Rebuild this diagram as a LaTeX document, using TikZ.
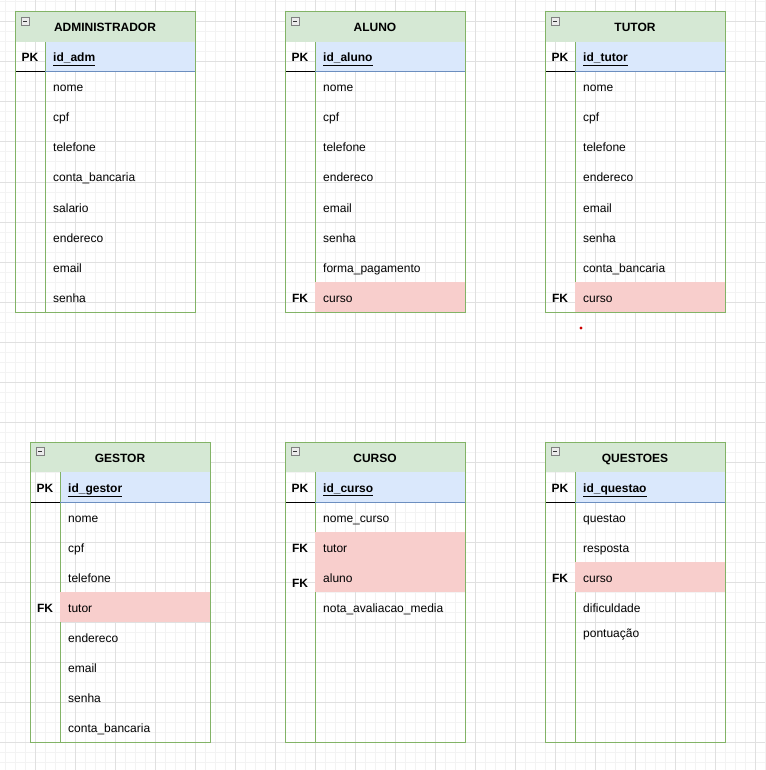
\documentclass[tikz,border=0pt]{standalone}
\usepackage{fontspec}
\setmainfont{Liberation Sans}

\definecolor{erHeadFill}{HTML}{D5E8D4}
\definecolor{erHeadLine}{HTML}{82B366}
\definecolor{erPkFill}{HTML}{DAE8FC}
\definecolor{erPkLine}{HTML}{6C8EBF}
\definecolor{erFkFill}{HTML}{F8CECC}
\definecolor{erGridMinor}{HTML}{F3F3F3}
\definecolor{erGridMajor}{HTML}{E0E0E0}
\definecolor{erDot}{HTML}{CC0000}

\def\erTableWidth{180}
\def\erKeyWidth{30}
\def\erRowHeight{30}
\def\erTextGap{8}
\def\erBase{5}

\tikzset{
  erframe/.style = {draw = erHeadLine, line width = 1pt},
  ersep/.style = {draw = erHeadLine, line width = 1pt},
  erpkline/.style = {draw = black, line width = 1pt},
  ericon/.style = {draw = gray, fill = black!8, line width = 0.8pt},
  erminus/.style = {draw = black!80, line width = 1pt},
  ertext/.style = {inner sep = 0pt, font = \fontsize{12}{14.4}\selectfont},
  ertitle/.style = {ertext, anchor = base, font = \fontsize{12}{14.4}\selectfont\bfseries},
  erkey/.style = {ertext, anchor = base, font = \fontsize{12}{14.4}\selectfont\bfseries},
  erfield/.style = {ertext, anchor = base west},
}

%% #1 name, #2 x, #3 y, #4 title, #5 primary key, #6 number of rows
\newcommand{\erTable}[6]{%
  \coordinate (#1) at (#2,#3);
  \fill [erHeadFill] (#1) rectangle ++(\erTableWidth,\erRowHeight);
  \fill [erPkFill] (#1) ++(\erKeyWidth,\erRowHeight)
    rectangle ++({\erTableWidth-\erKeyWidth},\erRowHeight);
  \draw [ersep] (#1) ++(\erKeyWidth,\erRowHeight)
    -- ++(0,{(#6+1)*\erRowHeight});
  \draw [erpkline] (#1) ++(0,{2*\erRowHeight}) -- ++(\erKeyWidth,0);
  \draw [erpkline, draw = erPkLine] (#1) ++(\erKeyWidth,{2*\erRowHeight})
    -- ++({\erTableWidth-\erKeyWidth},0);
  \draw [erframe] (#1) rectangle ++(\erTableWidth,{(#6+2)*\erRowHeight});
  \draw [ericon] (#1) ++(6,5.5) rectangle ++(8,8);
  \draw [erminus] (#1) ++(8,9.5) -- ++(4,0);
  \node [ertitle] (#1-title) at ([shift={({\erTableWidth/2},{15+\erBase})}]#1) {#4};
  \node [erkey] (#1-pkkey) at ([shift={({\erKeyWidth/2},{45+\erBase})}]#1) {PK};
  \node [erfield, font = \fontsize{12}{14.4}\selectfont\bfseries] (#1-pk)
    at ([shift={({\erKeyWidth+\erTextGap},{45+\erBase})}]#1) {\underline{#5}};
}

%% #1 vertical nudge, #2 table, #3 row, #4 text
\newcommand{\erField}[4][0]{%
  \node [erfield] (#2-row#3)
    at ([shift={({\erKeyWidth+\erTextGap},{45+30*#3+\erBase+#1})}]#2) {#4};
}

%% #1 key nudge, #2 table, #3 row, #4 text
\newcommand{\erFk}[4][0]{%
  \fill [erFkFill] ([shift={(\erKeyWidth,{30+30*#3})}]#2)
    rectangle ++({\erTableWidth-\erKeyWidth},\erRowHeight);
  \node [erkey] (#2-fk#3)
    at ([shift={({\erKeyWidth/2},{45+30*#3+\erBase+#1})}]#2) {FK};
  \node [erfield] (#2-row#3)
    at ([shift={({\erKeyWidth+\erTextGap},{45+30*#3+\erBase})}]#2) {#4};
}

\begin{document}
\begin{tikzpicture}[x = 1pt, y = -1pt]
  \useasboundingbox (0,0) rectangle (765,770);
  %% background grid
  \foreach \gx in {5,15,...,765}
    \draw [erGridMinor, line width = 1pt] (\gx,0) -- (\gx,770);
  \foreach \gy in {2,12,...,770}
    \draw [erGridMinor, line width = 1pt] (0,\gy) -- (765,\gy);
  \foreach \gx in {35,75,...,765}
    \draw [erGridMajor, line width = 1pt] (\gx,0) -- (\gx,770);
  \foreach \gy in {22,62,...,770}
    \draw [erGridMajor, line width = 1pt] (0,\gy) -- (765,\gy);

  %% administrador
  \erTable{adm}{15}{12}{ADMINISTRADOR}{id\_adm}{8}
  \foreach \i/\fname in {1/nome,2/cpf,3/telefone,4/conta\_bancaria,
      5/salario,6/endereco,7/email,8/senha}
    {\erField{adm}{\i}{\fname}}

  %% aluno
  \erTable{aluno}{285}{12}{ALUNO}{id\_aluno}{8}
  \foreach \i/\fname in {1/nome,2/cpf,3/telefone,4/endereco,
      5/email,6/senha,7/forma\_pagamento}
    {\erField{aluno}{\i}{\fname}}
  \erFk{aluno}{8}{curso}

  %% tutor
  \erTable{tutor}{545}{12}{TUTOR}{id\_tutor}{8}
  \foreach \i/\fname in {1/nome,2/cpf,3/telefone,4/endereco,
      5/email,6/senha,7/conta\_bancaria}
    {\erField{tutor}{\i}{\fname}}
  \erFk{tutor}{8}{curso}
  \fill [erDot] (581,328) circle (1.6);

  %% gestor
  \erTable{gestor}{30}{442}{GESTOR}{id\_gestor}{8}
  \foreach \i/\fname in {1/nome,2/cpf,3/telefone,5/endereco,
      6/email,7/senha,8/conta\_bancaria}
    {\erField{gestor}{\i}{\fname}}
  \erFk{gestor}{4}{tutor}

  %% curso
  \erTable{curso}{285}{442}{CURSO}{id\_curso}{8}
  \erField{curso}{1}{nome\_curso}
  \erFk{curso}{2}{tutor}
  \erFk[5]{curso}{3}{aluno}
  \erField{curso}{4}{nota\_avaliacao\_media}

  %% questoes
  \erTable{quest}{545}{442}{QUESTOES}{id\_questao}{8}
  \erField{quest}{1}{questao}
  \erField{quest}{2}{resposta}
  \erFk{quest}{3}{curso}
  \erField{quest}{4}{dificuldade}
  \erField[-5]{quest}{5}{pontuação}
\end{tikzpicture}
\end{document}
